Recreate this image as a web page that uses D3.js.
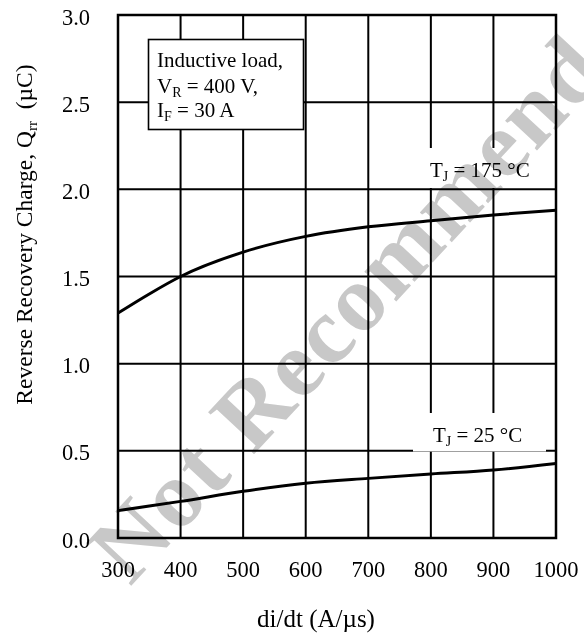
<!DOCTYPE html>
<html><head><meta charset="utf-8">
<script src="https://cdn.jsdelivr.net/npm/d3@7"></script>
<style>
html,body{margin:0;padding:0;background:#fff;}
text{font-family:"Liberation Serif","Times New Roman",serif;fill:#000;}
</style></head>
<body>
<script>
// ---- data ----
const diDt = [300, 350, 400, 500, 600, 700, 800, 900, 1000];
const qrr175 = [1.29, 1.40, 1.50, 1.64, 1.73, 1.785, 1.82, 1.853, 1.88];
const qrr25 = [0.157, 0.183, 0.21, 0.268, 0.314, 0.342, 0.367, 0.39, 0.428];
const xTicks = [300, 400, 500, 600, 700, 800, 900, 1000];
const yTicks = [0.0, 0.5, 1.0, 1.5, 2.0, 2.5, 3.0];

const W = 584, H = 637;
const L = 118, R = 556, T = 15, B = 538;
const svg = d3.select("body").append("svg").attr("width", W).attr("height", H)
  .style("display","block");
svg.append("rect").attr("width", W).attr("height", H).attr("fill", "#fff");

const x = d3.scaleLinear().domain([300, 1000]).range([L, R]);
const y = d3.scaleLinear().domain([0, 3]).range([B, T]);

// grid
const g = svg.append("g");
g.selectAll(".vg").data(xTicks.slice(1, -1)).join("line")
  .attr("x1", d => x(d)).attr("x2", d => x(d)).attr("y1", T).attr("y2", B)
  .attr("stroke", "#000").attr("stroke-width", 2);
g.selectAll(".hg").data(yTicks.slice(1, -1)).join("line")
  .attr("y1", d => y(d)).attr("y2", d => y(d)).attr("x1", L).attr("x2", R)
  .attr("stroke", "#000").attr("stroke-width", 2);

// label backgrounds
svg.append("rect").attr("x", 413).attr("y", 148).attr("width", 133).attr("height", 40).attr("fill", "#fff");
svg.append("rect").attr("x", 413).attr("y", 413).attr("width", 133).attr("height", 38.5).attr("fill", "#fff");

// annotation box
svg.append("rect").attr("x", 148.5).attr("y", 39.5).attr("width", 155).attr("height", 90)
  .attr("fill", "#fff").attr("stroke", "#000").attr("stroke-width", 1.6);

// watermark
svg.append("text")
  .attr("transform", "translate(130,587) rotate(-47)")
  .style("font-size", "95px").style("font-weight", "bold")
  .style("letter-spacing", "2px")
  .style("mix-blend-mode", "multiply")
  .style("fill", "#c8c8c8")
  .text("Not Recommended");

// frame
svg.append("rect").attr("x", L).attr("y", T).attr("width", R - L).attr("height", B - T)
  .attr("fill", "none").attr("stroke", "#000").attr("stroke-width", 2.5);

// curves
const line = d3.line().x((d, i) => x(diDt[i])).y(d => y(d)).curve(d3.curveMonotoneX);
[qrr175, qrr25].forEach(s => {
  svg.append("path").attr("d", line(s)).attr("fill", "none")
    .attr("stroke", "#000").attr("stroke-width", 3);
});

// tick labels
svg.selectAll(".xt").data(xTicks).join("text")
  .attr("x", d => x(d)).attr("y", B + 39).attr("text-anchor", "middle")
  .style("font-size", "22.5px").text(d => d);
svg.selectAll(".yt").data(yTicks).join("text")
  .attr("x", 90).attr("y", d => y(d) + 9.5).attr("text-anchor", "end")
  .style("font-size", "22.5px").text(d => d3.format(".1f")(d));

// axis titles
svg.append("text").attr("x", 316).attr("y", 627).attr("text-anchor", "middle")
  .style("font-size", "25px").text("di/dt (A/\u00b5s)");
const yt = svg.append("text").attr("transform", "translate(32,234.5) rotate(-90)")
  .attr("text-anchor", "middle").style("font-size", "23.5px");
yt.append("tspan").text("Reverse Recovery Charge, Q");
yt.append("tspan").attr("dy", 5).style("font-size", "15px").text("rr");
yt.append("tspan").attr("dy", -5).text("\u00a0\u00a0(\u00b5C)");

// annotation text
const ann = svg.append("g").style("font-size", "21px");
ann.append("text").attr("x", 157).attr("y", 67).text("Inductive load,");
const t2 = ann.append("text").attr("x", 157).attr("y", 93);
t2.append("tspan").text("V");
t2.append("tspan").attr("dy", 4).style("font-size", "14px").text("R");
t2.append("tspan").attr("dy", -4).text(" = 400 V,");
const t3 = ann.append("text").attr("x", 157).attr("y", 117);
t3.append("tspan").text("I");
t3.append("tspan").attr("dy", 4).style("font-size", "14px").text("F");
t3.append("tspan").attr("dy", -4).text(" = 30 A");

// curve labels
function tj(xp, yp, val) {
  const t = svg.append("text").attr("x", xp).attr("y", yp).style("font-size", "21px");
  t.append("tspan").text("T");
  t.append("tspan").attr("dy", 4).style("font-size", "14px").text("J");
  t.append("tspan").attr("dy", -4).text(" = " + val + " \u00b0C");
}
tj(430, 177, "175");
tj(433, 442, "25");
</script>
</body></html>
